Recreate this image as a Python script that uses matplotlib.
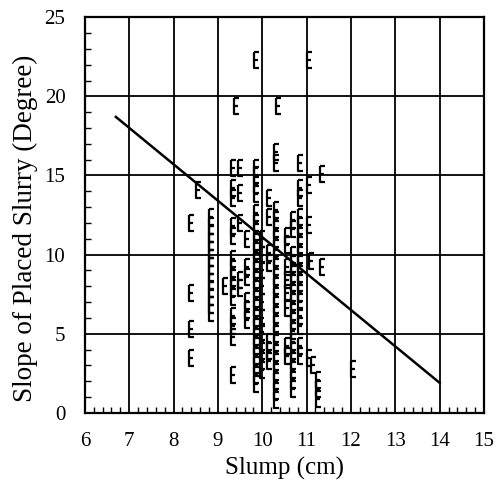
import matplotlib
matplotlib.use("Agg")
import matplotlib.pyplot as plt
from matplotlib.path import Path
from matplotlib.ticker import MultipleLocator

plt.rcParams['font.family'] = ['Liberation Serif', 'DejaVu Serif']

# Slump (cm) and slope of placed slurry (degree), grouped by slump column
slump_isolated = [9.85, 11.05, 9.4, 10.35, 8.55, 8.4, 8.4, 8.4, 8.4, 9.15,
                  11.35, 11.05, 11.05, 11.1, 11.35, 12.05, 9.35]
slope_isolated = [22.3, 22.3, 19.4, 19.4, 14.1, 12.0, 7.6, 5.3, 3.5, 8.0,
                  15.1, 14.4, 11.9, 9.6, 9.2, 2.8, 2.4]

columns = {
    8.85: [6.3, 6.8, 7.3, 7.8, 8.3, 8.8, 9.3, 9.8, 10.3, 10.8, 11.3, 11.8, 12.4],
    9.35: [4.8, 5.5, 6.1, 7.3, 7.9, 8.5, 9.1, 9.7, 11.2, 11.8, 13.6, 14.2, 15.5],
    9.5: [15.5, 13.9, 12.0, 8.4, 7.9],
    9.65: [5.9, 6.5, 7.1, 8.6, 9.2, 11.0],
    9.85: [1.8, 2.4, 3.0, 3.6, 4.2, 4.8, 5.4, 6.0, 6.6, 7.2, 7.8, 8.4, 9.0,
           9.6, 10.2, 10.8, 11.4, 12.0, 12.6, 13.8, 14.4, 15.0, 15.5],
    10.0: [2.7, 3.3, 3.9, 4.5, 5.1, 6.0, 7.0, 8.0, 9.0, 10.0, 11.0],
    10.15: [3.3, 3.9, 4.5, 9.5, 10.1, 12.4, 13.6],
    10.3: [0.8, 1.4, 2.0, 2.6, 3.2, 3.8, 4.4, 5.0, 5.6, 6.2, 6.8, 7.4, 8.0,
           8.6, 9.2, 9.8, 10.4, 11.0, 11.6, 12.2, 12.8, 15.8, 16.5],
    10.55: [3.6, 4.2, 6.6, 7.6, 8.4, 9.2, 10.6, 11.2],
    10.7: [1.5, 2.1, 2.7, 3.3, 3.9, 4.5, 5.2, 5.8, 6.4, 7.0, 7.6, 8.2, 8.8,
           9.4, 10.0, 11.6, 12.2],
    10.85: [3.6, 4.2, 5.5, 6.1, 7.0, 7.6, 8.2, 8.8, 9.4, 10.0, 10.6, 11.2,
            11.8, 12.4, 13.6, 14.2, 15.8],
    11.05: [3.5],
    11.15: [3.0],
    11.25: [0.9, 1.5, 2.1],
}

# Fitted trend line end points
fit_slump = [6.7, 14.0]
fit_slope = [18.7, 1.9]

xticks = list(range(6, 16))
yticks = [0, 5, 10, 15, 20, 25]

slump = list(slump_isolated)
slope = list(slope_isolated)
for x, ys in columns.items():
    slump.extend([x] * len(ys))
    slope.extend(ys)

# "E"-shaped marker: vertical stroke with three ticks to the right
verts = [(-0.3, 1.0), (0.3, 1.0), (-0.3, 1.0), (-0.3, -1.0), (0.3, -1.0),
         (-0.3, 0.0), (0.2, 0.0)]
codes = [Path.MOVETO, Path.LINETO, Path.MOVETO, Path.LINETO, Path.LINETO,
         Path.MOVETO, Path.LINETO]
e_marker = Path(verts, codes)

fig = plt.figure(figsize=(4.99, 4.91), dpi=100)
ax = fig.add_axes([0.170, 0.159, 0.800, 0.806])

ax.plot(slump, slope, linestyle='none', marker=e_marker, markersize=12,
        markerfacecolor='none', markeredgecolor='black', markeredgewidth=1.6)
ax.plot(fit_slump, fit_slope, color='black', linewidth=1.8)

ax.set_xlim(6, 15)
ax.set_ylim(0, 25)
ax.set_xticks(xticks)
ax.set_yticks(yticks)
ax.xaxis.set_minor_locator(MultipleLocator(0.2))
ax.yaxis.set_minor_locator(MultipleLocator(1))
ax.grid(True, which='major', color='black', linewidth=1.3)
ax.set_axisbelow(True)

ax.tick_params(which='both', direction='in', top=False, right=False)
ax.tick_params(which='major', length=0, labelsize=15, pad=14)
ax.tick_params(which='minor', length=4, width=1.0)
for s in ax.spines.values():
    s.set_linewidth(1.6)

ax.set_xlabel('Slump (cm)', fontsize=18, labelpad=4)
ax.set_ylabel('Slope of Placed Slurry (Degree)', fontsize=19.5)
ax.yaxis.set_label_coords(-0.118, 0.467)

fig.savefig('out.png', dpi=100)
